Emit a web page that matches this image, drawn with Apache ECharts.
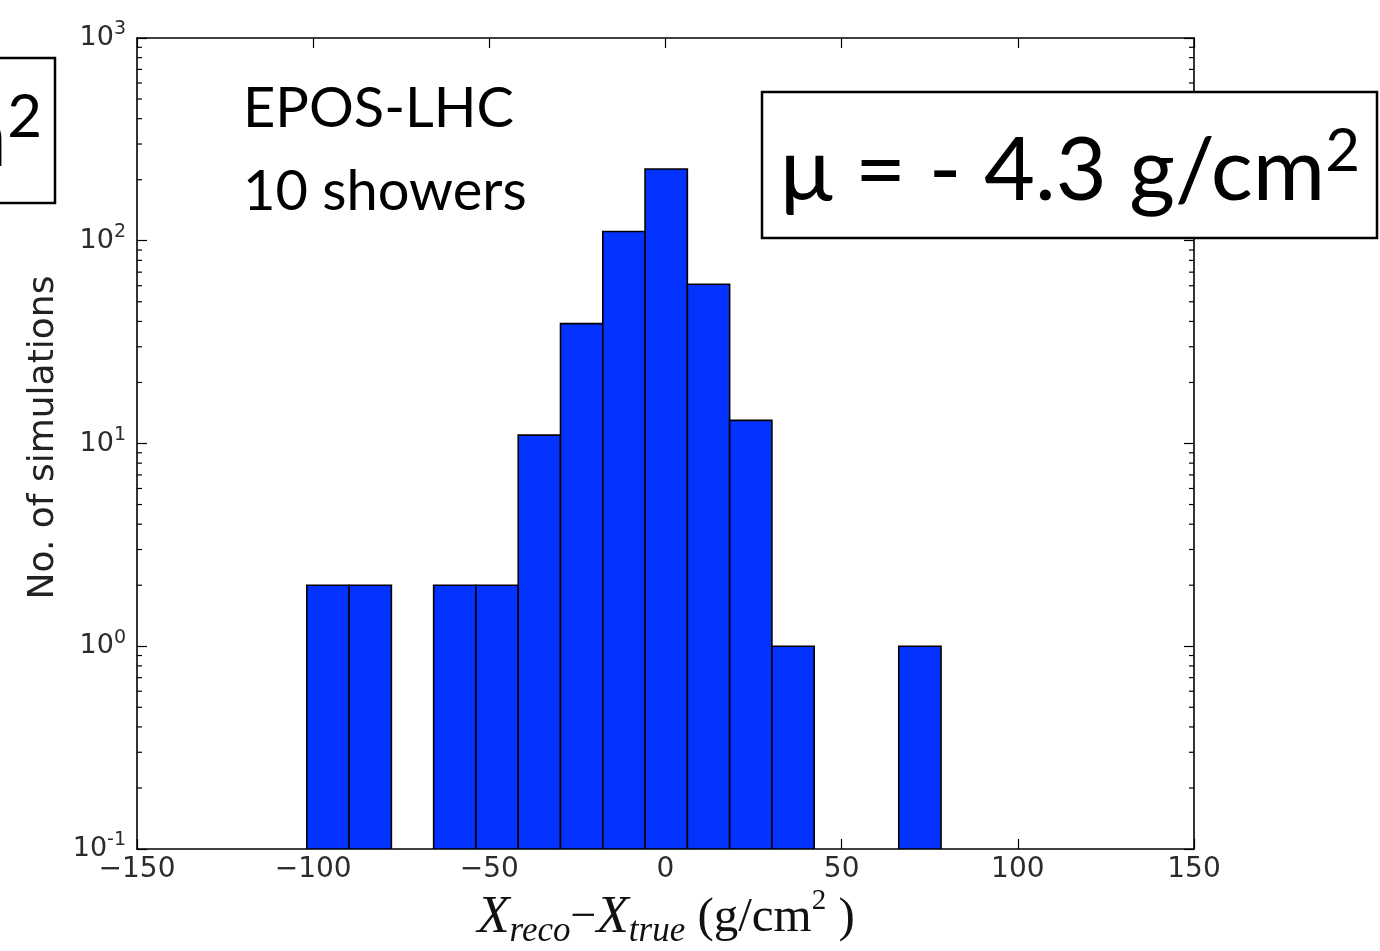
<!DOCTYPE html>
<html>
<head>
<meta charset="utf-8">
<title>Xmax reconstruction residuals</title>
<script src="https://cdn.jsdelivr.net/npm/echarts@6/dist/echarts.min.js"></script>
<style>
  html, body { margin: 0; padding: 0; background: #fff; }
  #chart { width: 1380px; height: 951px; }
</style>
</head>
<body>
<div id="chart"></div>
<script>
// Histogram bin edges (g/cm^2) and counts per bin
const binEdges = [-101.8, -89.8, -77.8, -65.8, -53.8, -41.8, -29.8, -17.8, -5.8, 6.2, 18.2, 30.2, 42.2, 54.2, 66.2, 78.2];
const binCounts = [2, 2, 0, 2, 2, 11, 39, 111, 226, 61, 13, 1, 0, 0, 1];

// Axis ranges and ticks
const xTicks = [-150, -100, -50, 0, 50, 100, 150];
const yDecades = [0.1, 1, 10, 100, 1000];
const yMinorSteps = [2, 3, 4, 5, 6, 7, 8, 9];

const xMin = xTicks[0], xMax = xTicks[xTicks.length - 1], xStep = xTicks[1] - xTicks[0];
const yMin = yDecades[0], yMax = yDecades[yDecades.length - 1];

const histData = binCounts.map((c, i) => [binEdges[i], binEdges[i + 1], c]);
const minorData = [];
yDecades.slice(0, -1).forEach(d => yMinorSteps.forEach(m => minorData.push([xMin, d * m])));

const tickFont = 'DejaVu Sans';
const labelColor = '#2b2b2b';

function decadeLabel(v) {
  const e = Math.round(Math.log10(v));
  return '{b|10}{s|' + e + '}';
}

const axisLineStyle = { color: '#000', width: 1.6 };
const tickStyle = { color: '#000', width: 1.2 };

// large boxed annotation text styles
const boxRich = {
  t: { fontFamily: 'Lato', fontSize: 88, fill: '#000', lineHeight: 100, verticalAlign: 'middle' },
  s: { fontFamily: 'Lato', fontSize: 60, fill: '#000', lineHeight: 56, verticalAlign: 'top' }
};

const chart = echarts.init(document.getElementById('chart'), null, { renderer: 'canvas' });

chart.setOption({
  animation: false,
  backgroundColor: '#fff',
  grid: { left: 137, top: 38, width: 1057, height: 811, containLabel: false },
  xAxis: [
    {
      type: 'value', min: xMin, max: xMax, interval: xStep, position: 'bottom',
      axisLine: { show: true, onZero: false, lineStyle: axisLineStyle },
      axisTick: { show: true, inside: true, length: 10, lineStyle: tickStyle },
      splitLine: { show: false },
      axisLabel: {
        show: true, margin: 7, color: labelColor, fontFamily: tickFont, fontSize: 28,
        formatter: v => (v < 0 ? '\u2212' + Math.abs(v) : String(v))
      }
    },
    {
      type: 'value', min: xMin, max: xMax, interval: xStep, position: 'top',
      axisLine: { show: true, onZero: false, lineStyle: axisLineStyle },
      axisTick: { show: true, inside: true, length: 10, lineStyle: tickStyle },
      splitLine: { show: false },
      axisLabel: { show: false }
    }
  ],
  yAxis: [
    {
      type: 'log', logBase: 10, min: yMin, max: yMax, position: 'left',
      axisLine: { show: true, onZero: false, lineStyle: axisLineStyle },
      axisTick: { show: true, inside: true, length: 10, lineStyle: tickStyle },
      splitLine: { show: false },
      axisLabel: {
        show: true, margin: 11, color: labelColor, fontFamily: tickFont,
        formatter: decadeLabel,
        rich: {
          b: { fontFamily: tickFont, fontSize: 27, color: labelColor, lineHeight: 36, verticalAlign: 'middle' },
          s: { fontFamily: tickFont, fontSize: 19, color: labelColor, lineHeight: 16, verticalAlign: 'top' }
        }
      },
      name: 'No. of simulations',
      nameLocation: 'middle',
      nameRotate: 90,
      nameGap: 71,
      nameTextStyle: { fontFamily: 'DejaVu Sans', fontSize: 36, color: '#222', padding: [0, 0, 0, 12] }
    },
    {
      type: 'log', logBase: 10, min: yMin, max: yMax, position: 'right',
      axisLine: { show: true, onZero: false, lineStyle: axisLineStyle },
      axisTick: { show: true, inside: true, length: 10, lineStyle: tickStyle },
      splitLine: { show: false },
      axisLabel: { show: false }
    }
  ],
  series: [
    {
      type: 'custom',
      name: 'counts',
      xAxisIndex: 0, yAxisIndex: 0,
      clip: true,
      encode: { x: [0, 1], y: 2 },
      data: histData,
      renderItem: function (params, api) {
        const c = api.value(2);
        if (!(c > 0)) return null;
        const topLeft = api.coord([api.value(0), c]);
        const botRight = api.coord([api.value(1), yMin]);
        return {
          type: 'rect',
          shape: { x: topLeft[0], y: topLeft[1], width: botRight[0] - topLeft[0], height: botRight[1] - topLeft[1] },
          style: { fill: '#0433ff', stroke: '#000', lineWidth: 1.6 }
        };
      },
      z: 2
    },
    {
      // minor log ticks on left and right frame edges
      type: 'custom',
      name: 'minorTicks',
      xAxisIndex: 0, yAxisIndex: 0,
      clip: false,
      silent: true,
      encode: { x: 0, y: 1 },
      data: minorData,
      renderItem: function (params, api) {
        const v = api.value(1);
        const l = api.coord([xMin, v]);
        const r = api.coord([xMax, v]);
        return {
          type: 'group',
          children: [
            { type: 'line', shape: { x1: l[0], y1: l[1], x2: l[0] + 5, y2: l[1] }, style: { stroke: '#000', lineWidth: 1.2 } },
            { type: 'line', shape: { x1: r[0], y1: r[1], x2: r[0] - 5, y2: r[1] }, style: { stroke: '#000', lineWidth: 1.2 } }
          ]
        };
      },
      z: 3
    }
  ],
  graphic: [
    {
      type: 'text', x: 243, y: 67, z: 50,
      style: {
        text: 'EPOS-LHC\n10 showers',
        font: '56px Lato', fill: '#000', lineHeight: 83
      }
    },
    {
      type: 'rect', x: 762, y: 92, z: 100,
      shape: { x: 0, y: 0, width: 615, height: 146 },
      style: { fill: '#fff', stroke: '#000', lineWidth: 2.5 }
    },
    {
      type: 'text', x: 1070, y: 172, z: 101,
      style: {
        text: '{t|\u03bc = - 4.3 g/cm}{s|2}',
        align: 'center', verticalAlign: 'middle',
        rich: boxRich
      }
    },
    {
      type: 'rect', x: -20, y: 58, z: 100,
      shape: { x: 0, y: 0, width: 75, height: 145 },
      style: { fill: '#fff', stroke: '#000', lineWidth: 2.5 }
    },
    {
      type: 'text', x: 42, y: 138, z: 101,
      style: {
        text: '{t|m}{s|2}',
        align: 'right', verticalAlign: 'middle',
        rich: boxRich
      }
    },
    {
      type: 'text', x: 666, y: 918, z: 50,
      style: {
        text: '{X|X}{sb|reco}{m|\u2212}{X|X}{sb|true}{n| (g/cm}{sp|2}{n| )}',
        align: 'center', verticalAlign: 'middle',
        rich: {
          X: { fontFamily: 'Liberation Serif', fontStyle: 'italic', fontSize: 53, fill: '#111', lineHeight: 62, verticalAlign: 'middle' },
          sb: { fontFamily: 'Liberation Serif', fontStyle: 'italic', fontSize: 35, fill: '#111', lineHeight: 28, verticalAlign: 'bottom' },
          m: { fontFamily: 'Liberation Serif', fontSize: 46, fill: '#111', lineHeight: 62, verticalAlign: 'middle' },
          n: { fontFamily: 'Liberation Serif', fontSize: 49, fill: '#111', lineHeight: 62, verticalAlign: 'middle' },
          sp: { fontFamily: 'Liberation Serif', fontSize: 29, fill: '#111', lineHeight: 26, verticalAlign: 'top' }
        }
      }
    }
  ]
});
</script>
</body>
</html>
